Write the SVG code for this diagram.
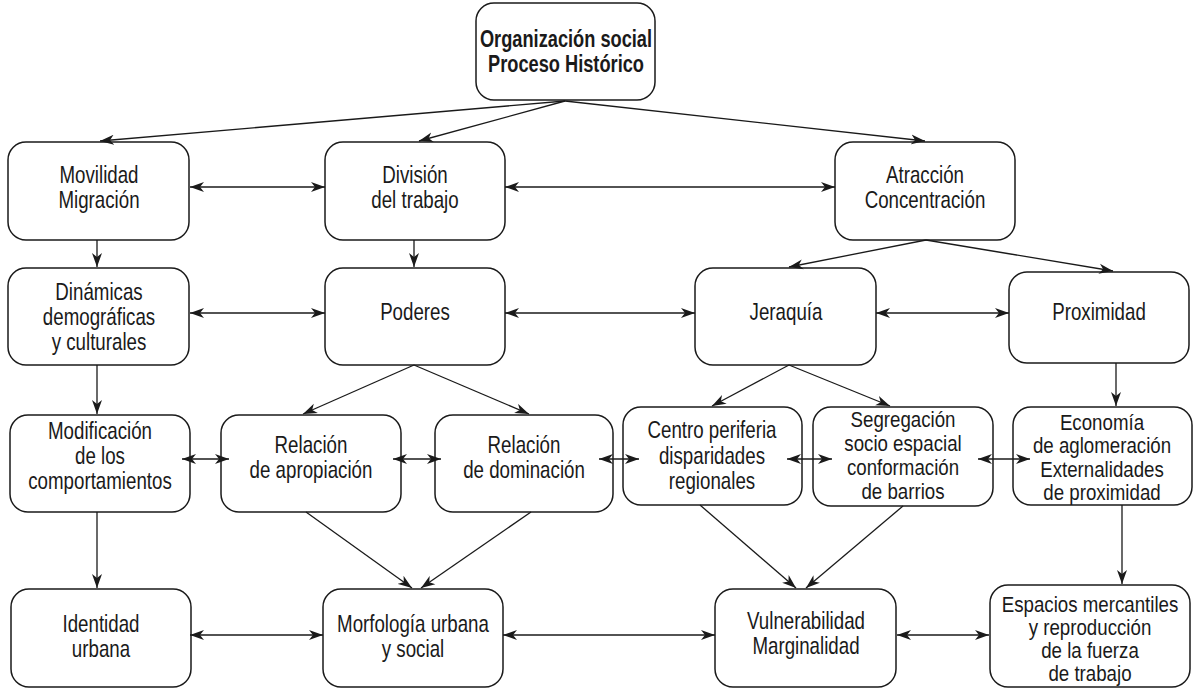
<svg xmlns="http://www.w3.org/2000/svg" width="1197" height="689" viewBox="0 0 1197 689">
<style>
.box{fill:#fff;stroke:#1a1a1a;stroke-width:1.5}
.t{font-family:"Liberation Sans",Arial,sans-serif;font-size:24px;fill:#1a1a1a;text-anchor:middle}
.s{font-size:22px}
.b{font-weight:bold}
.c{fill:none;stroke:#1a1a1a;stroke-width:1.3}
.e{marker-end:url(#ah)}
.d{marker-start:url(#ah);marker-end:url(#ah)}
</style>
<defs>
<marker id="ah" markerUnits="userSpaceOnUse" markerWidth="15" markerHeight="11" refX="14" refY="5.5" orient="auto-start-reverse">
<path d="M0,0.5 L14,5.5 L0,10.5 L4,5.5 Z" fill="#1a1a1a"/>
</marker>
</defs>
<rect width="1197" height="689" fill="#fff"/>
<g id="n-top">
<rect class="box" x="476" y="3" width="179" height="97" rx="18"/>
<g transform="matrix(0.76 0 0 1 135.84 0)">
<text class="t b" x="566" y="47">Organización social</text>
<text class="t b" x="566" y="72">Proceso Histórico</text>
</g>
</g>
<g id="n-movilidad">
<rect class="box" x="8" y="142" width="181" height="98" rx="18"/>
<g transform="matrix(0.78 0 0 1 21.78 0)">
<text class="t" x="99" y="183">Movilidad</text>
<text class="t" x="99" y="208">Migración</text>
</g>
</g>
<g id="n-division">
<rect class="box" x="325" y="142" width="180" height="98" rx="18"/>
<g transform="matrix(0.78 0 0 1 91.3 0)">
<text class="t" x="415" y="183">División</text>
<text class="t" x="415" y="208">del trabajo</text>
</g>
</g>
<g id="n-atraccion">
<rect class="box" x="835" y="142" width="180" height="98" rx="18"/>
<g transform="matrix(0.78 0 0 1 203.5 0)">
<text class="t" x="925" y="183">Atracción</text>
<text class="t" x="925" y="208">Concentración</text>
</g>
</g>
<g id="n-dinamicas">
<rect class="box" x="8" y="268" width="181" height="97" rx="18"/>
<g transform="matrix(0.78 0 0 1 21.78 0)">
<text class="t" x="99" y="300">Dinámicas</text>
<text class="t" x="99" y="325">demográficas</text>
<text class="t" x="99" y="350">y culturales</text>
</g>
</g>
<g id="n-poderes">
<rect class="box" x="325" y="268" width="180" height="97" rx="18"/>
<g transform="matrix(0.78 0 0 1 91.3 0)">
<text class="t" x="415" y="320">Poderes</text>
</g>
</g>
<g id="n-jeraquia">
<rect class="box" x="695" y="268" width="181" height="97" rx="18"/>
<g transform="matrix(0.78 0 0 1 172.92 0)">
<text class="t" x="786" y="320">Jeraquía</text>
</g>
</g>
<g id="n-proximidad">
<rect class="box" x="1009" y="272" width="180" height="91" rx="18"/>
<g transform="matrix(0.78 0 0 1 241.78 0)">
<text class="t" x="1099" y="320">Proximidad</text>
</g>
</g>
<g id="n-modificacion">
<rect class="box" x="10" y="415" width="180" height="97" rx="18"/>
<g transform="matrix(0.78 0 0 1 22 0)">
<text class="t" x="100" y="439">Modificación</text>
<text class="t" x="100" y="464">de los</text>
<text class="t" x="100" y="489">comportamientos</text>
</g>
</g>
<g id="n-apropiacion">
<rect class="box" x="221" y="415" width="180" height="97" rx="18"/>
<g transform="matrix(0.78 0 0 1 68.42 0)">
<text class="t" x="311" y="453">Relación</text>
<text class="t" x="311" y="478">de apropiación</text>
</g>
</g>
<g id="n-dominacion">
<rect class="box" x="435" y="415" width="178" height="97" rx="18"/>
<g transform="matrix(0.78 0 0 1 115.28 0)">
<text class="t" x="524" y="453">Relación</text>
<text class="t" x="524" y="478">de dominación</text>
</g>
</g>
<g id="n-centro">
<rect class="box" x="623" y="407" width="179" height="98" rx="18"/>
<g transform="matrix(0.78 0 0 1 156.64 0)">
<text class="t" x="712" y="438">Centro periferia</text>
<text class="t" x="712" y="464">disparidades</text>
<text class="t" x="712" y="489">regionales</text>
</g>
</g>
<g id="n-segregacion">
<rect class="box" x="813" y="407" width="180" height="99" rx="18"/>
<g transform="matrix(0.85 0 0 1 135.45 0)">
<text class="t s" x="903" y="427">Segregación</text>
<text class="t s" x="903" y="451">socio espacial</text>
<text class="t s" x="903" y="475">conformación</text>
<text class="t s" x="903" y="499">de barrios</text>
</g>
</g>
<g id="n-economia">
<rect class="box" x="1013" y="407" width="179" height="98" rx="18"/>
<g transform="matrix(0.85 0 0 1 165.3 0)">
<text class="t s" x="1102" y="430">Economía</text>
<text class="t s" x="1102" y="453">de aglomeración</text>
<text class="t s" x="1102" y="477">Externalidades</text>
<text class="t s" x="1102" y="500">de proximidad</text>
</g>
</g>
<g id="n-identidad">
<rect class="box" x="11" y="589" width="180" height="98" rx="18"/>
<g transform="matrix(0.78 0 0 1 22.22 0)">
<text class="t" x="101" y="632">Identidad</text>
<text class="t" x="101" y="657">urbana</text>
</g>
</g>
<g id="n-morfologia">
<rect class="box" x="323" y="589" width="180" height="98" rx="18"/>
<g transform="matrix(0.78 0 0 1 90.86 0)">
<text class="t" x="413" y="632">Morfología urbana</text>
<text class="t" x="413" y="657">y social</text>
</g>
</g>
<g id="n-vulnerabilidad">
<rect class="box" x="715" y="589" width="181" height="98" rx="18"/>
<g transform="matrix(0.78 0 0 1 177.32 0)">
<text class="t" x="806" y="629">Vulnerabilidad</text>
<text class="t" x="806" y="654">Marginalidad</text>
</g>
</g>
<g id="n-espacios">
<rect class="box" x="990" y="585" width="200" height="102" rx="18"/>
<g transform="matrix(0.85 0 0 1 163.5 0)">
<text class="t s" x="1090" y="612">Espacios mercantiles</text>
<text class="t s" x="1090" y="635">y reproducción</text>
<text class="t s" x="1090" y="658">de la fuerza</text>
<text class="t s" x="1090" y="681">de trabajo</text>
</g>
</g>
<g id="connectors">
<path class="c e" d="M565,101 L100,141"/>
<path class="c e" d="M565,101 L419,141"/>
<path class="c e" d="M565,101 L925,141"/>
<path class="c d" d="M190,187 L325,187"/>
<path class="c d" d="M505,187 L835,187"/>
<path class="c e" d="M97,240 L97,267"/>
<path class="c e" d="M414,240 L414,267"/>
<path class="c e" d="M926,240 L789,267"/>
<path class="c e" d="M926,240 L1113,271"/>
<path class="c d" d="M190,313 L325,313"/>
<path class="c d" d="M505,313 L695,313"/>
<path class="c d" d="M876,313 L1009,313"/>
<path class="c e" d="M97,365 L97,414"/>
<path class="c e" d="M414,365 L303,414"/>
<path class="c e" d="M414,365 L529,414"/>
<path class="c e" d="M789,365 L712,406"/>
<path class="c e" d="M789,365 L890,406"/>
<path class="c e" d="M1116,363 L1116,406"/>
<path class="c d" d="M182,459 L229,459"/>
<path class="c d" d="M393,459 L441,459"/>
<path class="c d" d="M599,459 L639,459"/>
<path class="c d" d="M787,459 L832,459"/>
<path class="c d" d="M978,459 L1030,459"/>
<path class="c e" d="M97,512 L97,588"/>
<path class="c e" d="M306,512 L412,588"/>
<path class="c e" d="M531,512 L421,588"/>
<path class="c e" d="M700,505 L796,588"/>
<path class="c e" d="M903,506 L806,588"/>
<path class="c e" d="M1122,505 L1122,584"/>
<path class="c d" d="M190,635 L323,635"/>
<path class="c d" d="M503,635 L715,635"/>
<path class="c d" d="M897,635 L989,635"/>
</g>
</svg>
